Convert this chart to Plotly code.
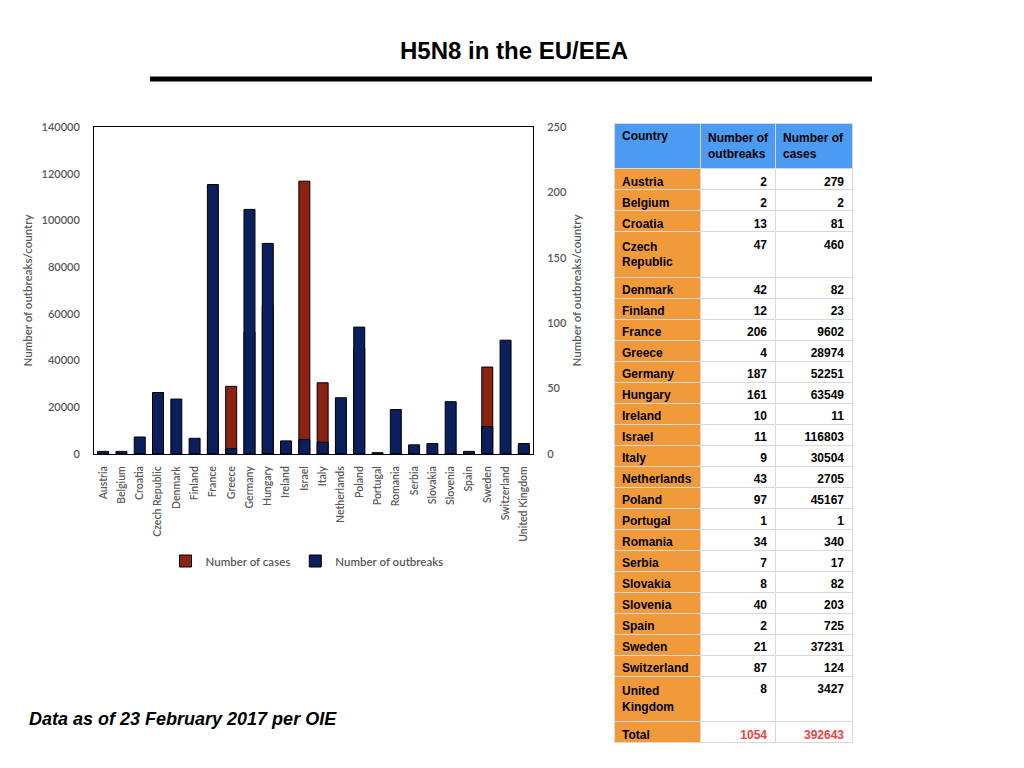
import plotly.graph_objects as go

# H5N8 outbreaks / cases per country, as of 23 Feb 2017 (OIE)
countries = ["Austria", "Belgium", "Croatia", "Czech Republic", "Denmark", "Finland",
             "France", "Greece", "Germany", "Hungary", "Ireland", "Israel", "Italy",
             "Netherlands", "Poland", "Portugal", "Romania", "Serbia", "Slovakia",
             "Slovenia", "Spain", "Sweden", "Switzerland", "United Kingdom"]
outbreaks = [2, 2, 13, 47, 42, 12, 206, 4, 187, 161, 10, 11, 9, 43, 97, 1, 34, 7, 8,
             40, 2, 21, 87, 8]
cases = [279, 2, 81, 460, 82, 23, 9602, 28974, 52251, 63549, 11, 116803, 30504, 2705,
         45167, 1, 340, 17, 82, 203, 725, 37231, 124, 3427]

table_names = ["Austria", "Belgium", "Croatia", "Czech<br>Republic", "Denmark", "Finland",
               "France", "Greece", "Germany", "Hungary", "Ireland", "Israel", "Italy",
               "Netherlands", "Poland", "Portugal", "Romania", "Serbia", "Slovakia",
               "Slovenia", "Spain", "Sweden", "Switzerland", "United<br>Kingdom"]
table_header = ["Country", "Number of<br>outbreaks", "Number of<br>cases"]

W, H = 1024, 768
OFF = 8  # page body margin


def px_x(x):
    return (x - OFF) / W


def px_y(y):
    return 1 - (y - OFF) / H


RED = "#8b2214"
NAVY = "#0b1f5c"
GREY = "#595959"
BLUE = "#4c9bf3"
ORANGE = "#f09a3a"

fig = go.Figure()

fig.add_trace(go.Bar(
    x=countries, y=cases, name="Number of cases",
    marker=dict(color=RED, line=dict(color="black", width=1)),
    yaxis="y",
))
fig.add_trace(go.Bar(
    x=countries, y=outbreaks, name="Number of outbreaks",
    marker=dict(color=NAVY, line=dict(color="black", width=1)),
    yaxis="y2",
))

# table on the right
n = len(countries)
col_country = table_names + ["Total"]
col_out = [str(v) for v in outbreaks] + [str(sum(outbreaks))]
col_cases = [str(v) for v in cases] + [str(sum(cases))]
num_colors = ["black"] * n + ["#e8453c"]

fig.add_trace(go.Table(
    domain=dict(x=[px_x(614), px_x(852)], y=[px_y(748), px_y(123)]),
    columnwidth=[86, 75, 77],
    header=dict(
        values=table_header,
        fill_color=BLUE, align="left", height=20,
        line=dict(color="#d9d9d9", width=1),
        font=dict(family="Liberation Sans", size=12, color="black", weight="bold"),
    ),
    cells=dict(
        values=[col_country, col_out, col_cases],
        fill_color=[[ORANGE] * (n + 1), ["white"] * (n + 1), ["white"] * (n + 1)],
        align=["left", "right", "right"], height=21,
        line=dict(color="#d9d9d9", width=1),
        font=dict(family="Liberation Sans", size=12, weight="bold",
                  color=[["black"] * (n + 1), num_colors, num_colors]),
    ),
))

tick_font = dict(family="Lato", size=11, color=GREY, weight=600)
title_font = dict(family="Lato", size=11.5, color=GREY, weight=600)

fig.update_layout(
    width=W, height=H,
    margin=dict(l=0, r=0, t=0, b=0, autoexpand=False),
    paper_bgcolor="white", plot_bgcolor="white",
    bargap=0.4,
    font=dict(family="Lato", color=GREY),
    xaxis=dict(
        domain=[px_x(94), px_x(533)],
        tickangle=-90, tickfont=dict(family="Lato", size=10.5, color=GREY, weight=600),
        showline=True, linecolor="black", linewidth=1, mirror=True,
        ticks="outside", ticklen=7, tickcolor="rgba(0,0,0,0)",
        showgrid=False, automargin=False,
    ),
    yaxis=dict(
        domain=[px_y(454), px_y(127)],
        range=[0, 140000], dtick=20000, tickformat="d",
        tickfont=tick_font, showgrid=False, zeroline=False,
        showline=True, linecolor="black", linewidth=1,
        ticks="outside", ticklen=11, tickcolor="rgba(0,0,0,0)",
        title=dict(text="Number of outbreaks/country", font=title_font, standoff=6),
        automargin=False,
    ),
    yaxis2=dict(
        overlaying="y", side="right",
        range=[0, 250], dtick=50,
        tickfont=tick_font, showgrid=False, zeroline=False,
        showline=True, linecolor="black", linewidth=1,
        ticks="outside", ticklen=11, tickcolor="rgba(0,0,0,0)",
        title=dict(text="Number of outbreaks/country", font=title_font, standoff=6),
        automargin=False,
    ),
    legend=dict(
        orientation="h", x=px_x(307), xanchor="center", y=px_y(561), yanchor="middle",
        font=dict(family="Lato", size=11.5, color=GREY, weight=600),
        traceorder="normal",
    ),
    shapes=[dict(
        type="line", xref="paper", yref="paper",
        x0=px_x(150), x1=px_x(872), y0=px_y(79), y1=px_y(79),
        line=dict(color="black", width=5),
    )],
    annotations=[
        dict(text="<b>H5N8 in the EU/EEA</b>", xref="paper", yref="paper",
             x=px_x(514), y=px_y(50), xanchor="center", yanchor="middle", showarrow=False,
             font=dict(family="Liberation Sans", size=24, color="black")),
        dict(text="<b><i>Data as of 23 February 2017 per OIE</i></b>", xref="paper", yref="paper",
             x=px_x(27), y=px_y(719), xanchor="left", yanchor="middle", showarrow=False,
             font=dict(family="Liberation Sans", size=18, color="black")),
    ],
)

fig.write_html("out.html")
